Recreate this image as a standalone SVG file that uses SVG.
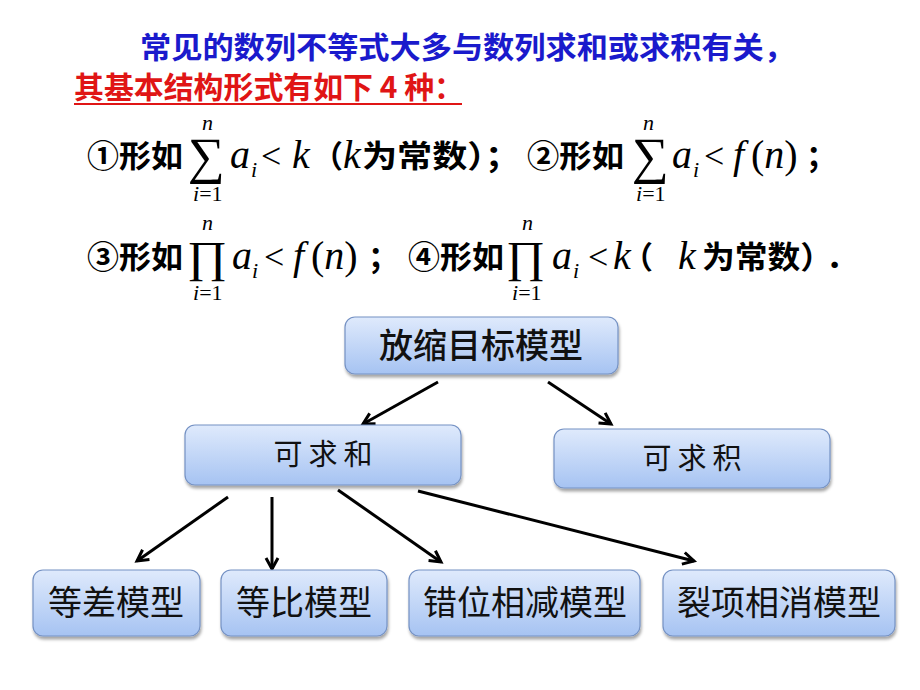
<svg xmlns="http://www.w3.org/2000/svg" width="920" height="690" viewBox="0 0 920 690">
<defs>
<linearGradient id="g" x1="0" y1="0" x2="0" y2="1">
<stop offset="0" stop-color="#dfeafc"/>
<stop offset="1" stop-color="#a6c3f2"/>
</linearGradient>
<filter id="sh" x="-5%" y="-10%" width="110%" height="130%">
<feDropShadow dx="1" dy="3" stdDeviation="1.5" flood-color="#000" flood-opacity="0.35"/>
</filter>
<marker id="ar" markerUnits="userSpaceOnUse" markerWidth="16" markerHeight="16" refX="13" refY="8" orient="auto">
<path d="M2,2 L13,8 L2,14" fill="none" stroke="#000" stroke-width="3" stroke-linejoin="miter"/>
</marker>
<style>
.box{fill:url(#g);stroke:#7592c4;stroke-width:1.2;filter:url(#sh)}
.cn{font-family:"Noto Sans CJK SC","Noto Sans CJK TC",sans-serif}
.bt{font-family:"Noto Sans CJK SC",sans-serif;font-size:34px;fill:#111;text-anchor:middle}
.kt{font-family:"Noto Sans CJK SC",sans-serif;font-size:29px;fill:#111;text-anchor:middle;letter-spacing:6px}
.m{font-family:"Liberation Serif","DejaVu Serif",serif;fill:#000}
.mi{font-family:"Liberation Serif","DejaVu Serif",serif;font-style:italic;fill:#000}
.mc{font-family:"Noto Sans CJK SC",sans-serif;font-size:31px;fill:#000;font-weight:bold}
.big{font-size:40px}
.sm{font-size:22px}
.conn line{stroke:#000;stroke-width:3;marker-end:url(#ar)}
</style>
</defs>
<rect width="920" height="690" fill="#fff"/>

<g id="title">
<text class="cn" x="140" y="58" font-size="30" font-weight="bold" fill="#1a1acc" textLength="655" lengthAdjust="spacingAndGlyphs">常见的数列不等式大多与数列求和或求积有关，</text>
<text class="cn" x="74" y="98" font-size="30" font-weight="bold" fill="#e01515" textLength="390" lengthAdjust="spacingAndGlyphs">其基本结构形式有如下 4 种：</text>
<line x1="74" y1="104" x2="462" y2="104" stroke="#e01515" stroke-width="2"/>
</g>

<g id="formula1">
<text class="mc" x="87" y="167" textLength="96" lengthAdjust="spacingAndGlyphs">①形如</text>
<text class="mi sm" x="202" y="130">n</text>
<text class="m" x="188" y="173" font-size="51" textLength="37" lengthAdjust="spacingAndGlyphs">∑</text>
<text class="mi sm" x="193" y="201">i<tspan font-style="normal">=1</tspan></text>
<text class="mi big" x="230" y="168">a</text>
<text class="mi sm" x="251" y="177">i</text>
<text class="m" x="261" y="168" font-size="36">&lt;</text>
<text class="mi big" x="292" y="168">k</text>
<text class="mc" x="312" y="167">（</text>
<text class="mi big" x="343" y="168">k</text>
<text class="mc" x="362" y="167" textLength="158" lengthAdjust="spacingAndGlyphs">为常数）；</text>
<text class="mc" x="527" y="167" textLength="97" lengthAdjust="spacingAndGlyphs">②形如</text>
<text class="mi sm" x="643" y="130">n</text>
<text class="m" x="632" y="173" font-size="51" textLength="37" lengthAdjust="spacingAndGlyphs">∑</text>
<text class="mi sm" x="636" y="201">i<tspan font-style="normal">=1</tspan></text>
<text class="mi big" x="672" y="168">a</text>
<text class="mi sm" x="693" y="177">i</text>
<text class="m" x="704" y="168" font-size="36">&lt;</text>
<text class="mi big" x="733" y="168">f</text>
<text class="m big" x="751" y="168">(<tspan font-style="italic">n</tspan>)</text>
<text class="mc" x="806" y="167">；</text>
</g>

<g id="formula2">
<text class="mc" x="87" y="268" textLength="96" lengthAdjust="spacingAndGlyphs">③形如</text>
<text class="mi sm" x="202" y="230">n</text>
<text class="m" x="187" y="272" font-size="44" textLength="40" lengthAdjust="spacingAndGlyphs">∏</text>
<text class="mi sm" x="193" y="300">i<tspan font-style="normal">=1</tspan></text>
<text class="mi big" x="232" y="269">a</text>
<text class="mi sm" x="252" y="278">i</text>
<text class="m" x="264" y="269" font-size="36">&lt;</text>
<text class="mi big" x="293" y="269">f</text>
<text class="m big" x="311" y="269">(<tspan font-style="italic">n</tspan>)</text>
<text class="mc" x="368" y="268">；</text>
<text class="mc" x="408" y="268" textLength="96" lengthAdjust="spacingAndGlyphs">④形如</text>
<text class="mi sm" x="522" y="230">n</text>
<text class="m" x="506" y="272" font-size="44" textLength="39" lengthAdjust="spacingAndGlyphs">∏</text>
<text class="mi sm" x="512" y="300">i<tspan font-style="normal">=1</tspan></text>
<text class="mi big" x="552" y="269">a</text>
<text class="mi sm" x="573" y="278">i</text>
<text class="m" x="588" y="269" font-size="36">&lt;</text>
<text class="mi big" x="613" y="269">k</text>
<text class="mc" x="622" y="268">（</text>
<text class="mi big" x="678" y="269">k</text>
<text class="mc" x="702" y="268" textLength="131" lengthAdjust="spacingAndGlyphs">为常数）</text>
<text class="mc" x="826" y="268">．</text>
</g>

<g class="conn" id="connectors">
<line x1="438" y1="382" x2="363" y2="424"/>
<line x1="548" y1="382" x2="611" y2="424"/>
<line x1="228" y1="497" x2="137" y2="561"/>
<line x1="272" y1="497" x2="272" y2="569"/>
<line x1="338" y1="490" x2="441" y2="562"/>
<line x1="418" y1="491" x2="694" y2="561"/>
</g>

<g id="n-top"><rect class="box" x="345" y="317" width="273" height="57" rx="10"/><text class="bt" x="481" y="358" font-size="36" font-weight="500">放缩目标模型</text></g>
<g id="n-sum"><rect class="box" x="185" y="425" width="276" height="60" rx="10"/><text class="kt" x="326" y="465">可求和</text></g>
<g id="n-prod"><rect class="box" x="554" y="429" width="276" height="59" rx="10"/><text class="kt" x="695" y="469">可求积</text></g>
<g id="n-dc"><rect class="box" x="33" y="570" width="167" height="66" rx="10"/><text class="bt" x="116" y="615">等差模型</text></g>
<g id="n-db"><rect class="box" x="221" y="570" width="166" height="66" rx="10"/><text class="bt" x="304" y="615">等比模型</text></g>
<g id="n-cw"><rect class="box" x="409" y="570" width="231" height="66" rx="10"/><text class="bt" x="525" y="615">错位相减模型</text></g>
<g id="n-lx"><rect class="box" x="663" y="570" width="232" height="66" rx="10"/><text class="bt" x="779" y="615">裂项相消模型</text></g>
</svg>
